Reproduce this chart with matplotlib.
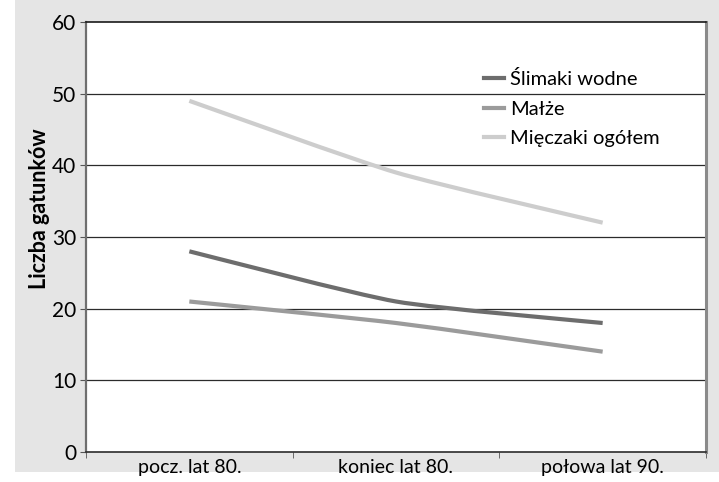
import matplotlib
matplotlib.use('Agg')
import matplotlib.pyplot as plt
from matplotlib.path import Path
from matplotlib.patches import PathPatch, Rectangle
from matplotlib.lines import Line2D

categories = ['pocz. lat 80.', 'koniec lat 80.', 'połowa lat 90.']
slimaki = [28, 21, 18]
malze = [21, 18, 14]
mieczaki = [49, 39, 32]
series_names = ['Ślimaki wodne', 'Małże', 'Mięczaki ogółem']
series_colors = ['#6d6d6d', '#9b9b9b', '#cdcdcd']
yticks = [0, 10, 20, 30, 40, 50, 60]

plt.rcParams['font.family'] = ['Lato', 'DejaVu Sans']


def smooth_path(xs, ys, k=10):
    # bezier through the points with a gentle rounding at the joints
    pts = list(zip(xs, ys))
    verts = [pts[0]]
    codes = [Path.MOVETO]
    n = len(pts)
    for i in range(n - 1):
        p0 = pts[i - 1] if i > 0 else pts[i]
        p1 = pts[i]
        p2 = pts[i + 1]
        p3 = pts[i + 2] if i + 2 < n else pts[i + 1]
        c1 = (p1[0] + (p2[0] - p0[0]) / k, p1[1] + (p2[1] - p0[1]) / k)
        c2 = (p2[0] - (p3[0] - p1[0]) / k, p2[1] - (p3[1] - p1[1]) / k)
        verts += [c1, c2, p2]
        codes += [Path.CURVE4] * 3
    return Path(verts, codes)


fig = plt.figure(figsize=(7.19, 4.82), dpi=100, facecolor='#e5e5e5')
# white margins on the left and bottom edges
fig.patches.append(Rectangle((0, 0), 15 / 719, 1, transform=fig.transFigure,
                             facecolor='white', edgecolor='none', zorder=-1))
fig.patches.append(Rectangle((0, 0), 1, 10 / 482, transform=fig.transFigure,
                             facecolor='white', edgecolor='none', zorder=-1))

ax = fig.add_axes([86 / 719, 30 / 482, 620 / 719, 430 / 482])
ax.set_facecolor('white')

x = list(range(len(categories)))
for vals, color, name in zip([slimaki, malze, mieczaki], series_colors, series_names):
    ax.add_patch(PathPatch(smooth_path(x, vals), facecolor='none', edgecolor=color,
                           lw=3.0, capstyle='butt', zorder=3))

ax.set_xlim(-0.5, len(categories) - 0.5)
ax.set_ylim(0, 60)
ax.set_yticks(yticks)
ax.set_yticklabels([str(v) for v in yticks], fontsize=15)
for v in yticks[1:-1]:
    ax.axhline(v, color='#2b2b2b', lw=0.9, zorder=1)

ax.set_xticks(x)
ax.set_xticklabels(categories, fontsize=14)
ax.set_xticks([i - 0.5 for i in range(len(categories) + 1)], minor=True)
ax.tick_params(axis='x', which='major', length=0, pad=5)
ax.tick_params(axis='x', which='minor', length=4, direction='out', color='#555555')
ax.tick_params(axis='y', length=4, direction='out', color='#555555', pad=3)

ax.set_ylabel('Liczba gatunków', fontsize=15.5, fontweight='bold')
ax.yaxis.set_label_coords(-0.058, 0.567)

ax.spines['left'].set_color('#6f6f6f')
ax.spines['left'].set_linewidth(1.6)
ax.spines['bottom'].set_color('#2b2b2b')
ax.spines['bottom'].set_linewidth(1.2)
ax.spines['top'].set_color('#1a1a1a')
ax.spines['top'].set_linewidth(1.2)
ax.spines['right'].set_color('#8a8a8a')
ax.spines['right'].set_linewidth(2.2)

handles = [Line2D([0], [0], color=c, lw=3.0) for c in series_colors]
leg = ax.legend(handles, series_names, loc='upper left', bbox_to_anchor=(0.613, 0.93),
                frameon=False, fontsize=14.5, handlelength=1.0, handletextpad=0.3,
                labelspacing=0.62)

fig.savefig('out.png', dpi=100, facecolor=fig.get_facecolor())
